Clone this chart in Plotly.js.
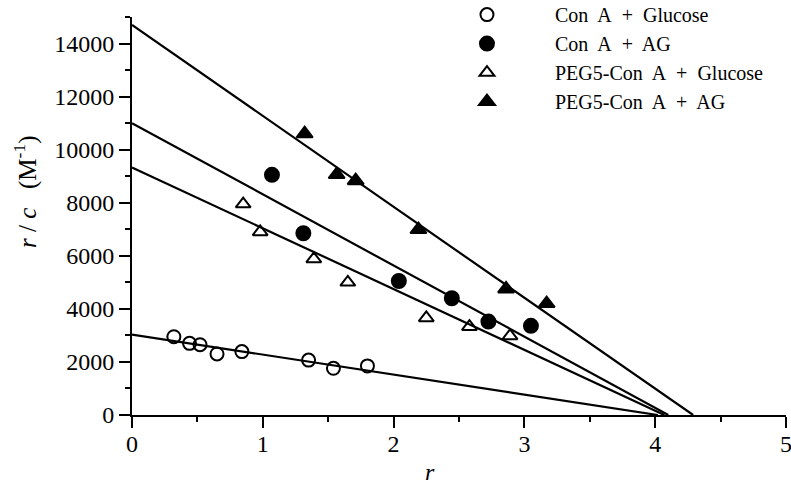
<!DOCTYPE html>
<html>
<head>
<meta charset="utf-8">
<script src="https://cdn.plot.ly/plotly-3.0.1.min.js"></script>
<style>html,body{margin:0;padding:0;background:#fff;}#chart{width:791px;height:497px;}</style>
</head>
<body>
<div id="chart"></div>
<script>
// Series names
var seriesNames = ["Con\u00a0 A\u00a0 +\u00a0 Glucose", "Con\u00a0 A\u00a0 +\u00a0 AG", "PEG5-Con\u00a0 A\u00a0 +\u00a0 Glucose", "PEG5-Con\u00a0 A\u00a0 +\u00a0 AG"];

// Con A + Glucose (open circles)
var conGluX = [0.32, 0.44, 0.52, 0.65, 0.84, 1.35, 1.54, 1.80];
var conGluY = [2950, 2700, 2650, 2300, 2390, 2070, 1760, 1850];

// Con A + AG (filled circles)
var conAgX = [1.07, 1.31, 2.04, 2.445, 2.725, 3.05];
var conAgY = [9050, 6850, 5050, 4400, 3520, 3360];

// PEG5-Con A + Glucose (open triangles)
var pegGluX = [0.85, 0.98, 1.39, 1.65, 2.25, 2.58, 2.89];
var pegGluY = [7950, 6900, 5880, 5000, 3660, 3330, 2980];

// PEG5-Con A + AG (filled triangles)
var pegAgX = [1.32, 1.565, 1.71, 2.19, 2.86, 3.17];
var pegAgY = [10600, 9060, 8830, 6990, 4750, 4200];

// Fitted Scatchard lines: y-intercepts (r = 0) and x-intercepts (r/c = 0)
var fitYIntercepts = [3030, 11000, 9330, 14700];
var fitXIntercepts = [4.02, 4.10, 4.07, 4.29];

// Axis ticks
var xTicks = [0, 1, 2, 3, 4, 5];
var yTicks = [0, 2000, 4000, 6000, 8000, 10000, 12000, 14000];

var FONT = "Liberation Serif, Times New Roman, serif";
var symbols = ["circle-open", "circle", "triangle-up-open", "triangle-up"];
var xs = [conGluX, conAgX, pegGluX, pegAgX];
var ys = [conGluY, conAgY, pegGluY, pegAgY];

var traces = [];
for (var i = 0; i < 4; i++) {
  traces.push({
    x: [0, fitXIntercepts[i]],
    y: [fitYIntercepts[i], 0],
    mode: "lines",
    line: {color: "#000", width: 2.2},
    showlegend: false,
    hoverinfo: "skip",
    cliponaxis: false
  });
}
var msize = [13, 14, 13, 14];
for (var j = 0; j < 4; j++) {
  traces.push({
    x: xs[j], y: ys[j],
    mode: "markers",
    name: seriesNames[j],
    legendgroup: "g" + j,
    marker: {symbol: symbols[j], size: msize[j], color: "#000", line: {color: "#000", width: 2}},
    cliponaxis: false
  });
}

var layout = {
  width: 791, height: 497,
  margin: {l: 132, r: 5, t: 17, b: 82, autoexpand: false},
  paper_bgcolor: "#fff", plot_bgcolor: "#fff",
  font: {family: FONT, color: "#000", size: 20},
  showlegend: true,
  legend: {
    x: 0.4388, xanchor: "left", y: 1.055, yanchor: "top",
    bgcolor: "rgba(0,0,0,0)", borderwidth: 0,
    itemwidth: 126, tracegroupgap: 0, traceorder: "grouped",
    font: {family: FONT, size: 20, color: "#000"}
  },
  xaxis: {
    range: [0, 5], tickvals: xTicks, ticktext: xTicks.map(String),
    showline: true, linecolor: "#000", linewidth: 2,
    ticks: "outside", ticklen: 11, tickwidth: 2, tickcolor: "#000",
    showgrid: false, zeroline: false, ticklabeloverflow: "allow",
    ticklabelstandoff: -5,
    tickfont: {family: FONT, size: 24, color: "#000"},
    minor: {dtick: 0.5, tick0: 0, ticks: "outside", ticklen: 5, tickwidth: 2, tickcolor: "#000", showgrid: false}
  },
  yaxis: {
    range: [0, 15000], tickvals: yTicks, ticktext: yTicks.map(String),
    showline: true, linecolor: "#000", linewidth: 2,
    ticks: "outside", ticklen: 11, tickwidth: 2, tickcolor: "#000",
    showgrid: false, zeroline: false, ticklabeloverflow: "allow",
    tickfont: {family: FONT, size: 24, color: "#000"},
    minor: {dtick: 1000, tick0: 0, ticks: "outside", ticklen: 5, tickwidth: 2, tickcolor: "#000", showgrid: false}
  },
  annotations: [
    {text: "<i>r</i>", xref: "paper", yref: "paper", x: (430 - 132) / 654, y: -(472 - 415) / 398,
     xanchor: "center", yanchor: "middle", showarrow: false, font: {family: FONT, size: 24, color: "#000"}},
    {text: "<i>r</i> / <i>c</i>\u00a0\u00a0 (M<sup>-1</sup>)", xref: "paper", yref: "paper", x: (26 - 132) / 654, y: (415 - 192) / 398,
     xanchor: "center", yanchor: "middle", textangle: -90, showarrow: false, font: {family: FONT, size: 25, color: "#000"}}
  ]
};

Plotly.newPlot("chart", traces, layout, {displayModeBar: false, staticPlot: true});
</script>
</body>
</html>
